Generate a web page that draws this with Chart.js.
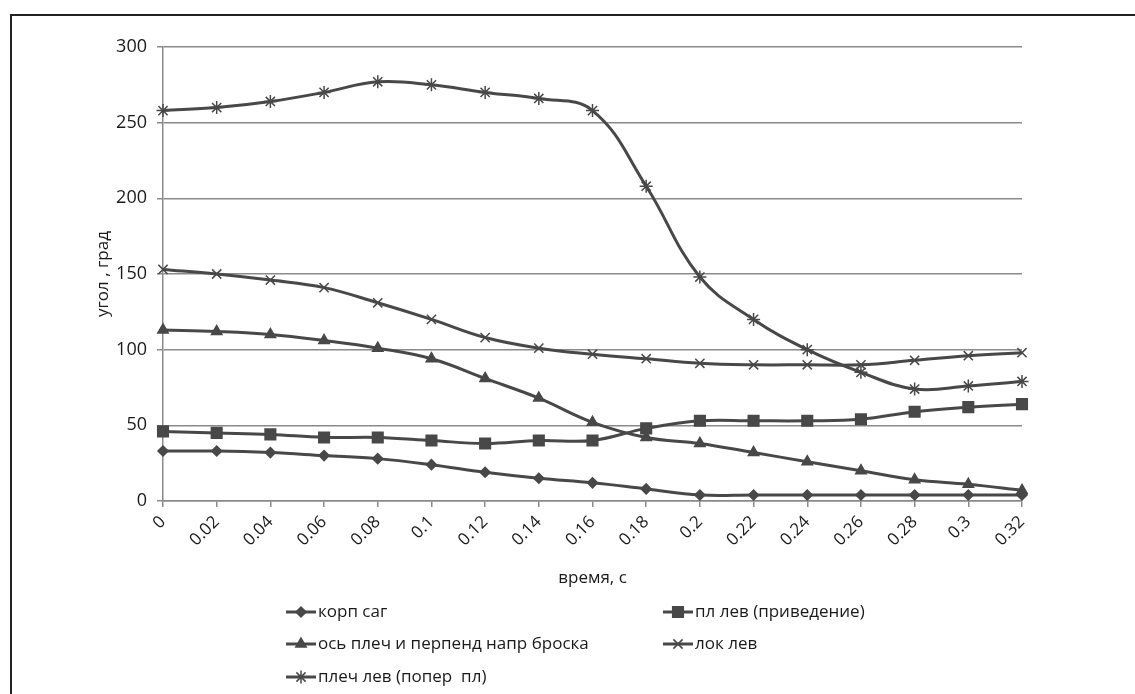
<!DOCTYPE html>
<html>
<head>
<meta charset="utf-8">
<script src="https://cdn.jsdelivr.net/npm/chart.js@4"></script>
<style>
  html, body { margin: 0; padding: 0; background: #fff; overflow: hidden; }
  #wrap { position: absolute; left: 0; top: 0; width: 1135px; height: 694px; }
  #frame { position: absolute; left: 10px; top: 14px; width: 2000px; height: 2000px;
           border-left: 2px solid #222; border-top: 2px solid #222; pointer-events: none; }
</style>
</head>
<body>
<div id="wrap"><canvas id="myChart" width="1135" height="694"></canvas></div>
<div id="frame"></div>
<script>
// time points, s
var times = ['0', '0.02', '0.04', '0.06', '0.08', '0.1', '0.12', '0.14', '0.16',
             '0.18', '0.2', '0.22', '0.24', '0.26', '0.28', '0.3', '0.32'];

// angles, degrees
var korpSag  = [33, 33, 32, 30, 28, 24, 19, 15, 12, 8, 4, 4, 4, 4, 4, 4, 4];
var plLev    = [46, 45, 44, 42, 42, 40, 38, 40, 40, 48, 53, 53, 53, 54, 59, 62, 64];
var osPlech  = [113, 112, 110, 106, 101, 94, 81, 68, 52, 42, 38, 32, 26, 20, 14, 11, 7];
var lokLev   = [153, 150, 146, 141, 131, 120, 108, 101, 97, 94, 91, 90, 90, 90, 93, 96, 98];
var plechLev = [258, 260, 264, 270, 277, 275, 270, 266, 258, 208, 148, 120, 100, 85, 74, 76, 79];

var yTicks = [0, 50, 100, 150, 200, 250, 300];

var lineColor = '#484848';
var font = '"Open Sans", sans-serif';

function series(label, data, style, radius) {
    return {
        label: label,
        data: data,
        borderColor: lineColor,
        backgroundColor: lineColor,
        borderWidth: 3,
        pointStyle: style,
        pointRadius: radius,
        pointBorderWidth: 1.5,
        pointBorderColor: lineColor,
        pointBackgroundColor: lineColor,
        tension: 0.4,
        fill: false
    };
}

// two-column legend under the x axis, like the spreadsheet one
var legendGrid = {
    id: 'legendGrid',
    afterDraw: function (chart) {
        var ctx = chart.ctx;
        var cols = [286, 663];
        var rows = [612, 644, 677];
        chart.data.datasets.forEach(function (ds, i) {
            var x = cols[i % 2], y = rows[Math.floor(i / 2)];
            ctx.save();
            ctx.strokeStyle = ds.borderColor;
            ctx.lineWidth = 3;
            ctx.beginPath();
            ctx.moveTo(x, y);
            ctx.lineTo(x + 30, y);
            ctx.stroke();
            ctx.fillStyle = ds.pointBackgroundColor;
            ctx.lineWidth = ds.pointBorderWidth;
            Chart.helpers.drawPoint(ctx, {
                pointStyle: ds.pointStyle, radius: ds.pointRadius,
                borderWidth: ds.pointBorderWidth, rotation: 0
            }, x + 15, y);
            ctx.fillStyle = '#1a1a1a';
            ctx.font = '17px ' + font;
            ctx.textBaseline = 'middle';
            ctx.textAlign = 'left';
            ctx.fillText(ds.label, x + 32, y);
            ctx.restore();
        });
    }
};

var ctx = document.getElementById('myChart').getContext('2d');
var chart = new Chart(ctx, {
    type: 'line',
    data: {
        labels: times,
        datasets: [
            series('корп саг', korpSag, 'rectRot', 5),
            series('пл лев (приведение)', plLev, 'rect', 7.5),
            series('ось плеч и перпенд напр броска', osPlech, 'triangle', 6),
            series('лок лев', lokLev, 'crossRot', 6.5),
            series('плеч лев (попер  пл)', plechLev, 'star', 6.5)
        ]
    },
    options: {
        responsive: false,
        animation: false,
        layout: { padding: { left: 89, right: 113, top: 47, bottom: 102 } },
        plugins: {
            legend: { display: false },
            tooltip: { enabled: false }
        },
        scales: {
            x: {
                offset: false,
                afterFit: function (s) { s.height = 91; },
                border: { color: '#8a8a8a', width: 1.5 },
                grid: { drawOnChartArea: false, drawTicks: true, tickLength: 6, color: '#8a8a8a', lineWidth: 1.5 },
                ticks: {
                    minRotation: 45, maxRotation: 45, autoSkip: false,
                    color: '#1a1a1a', font: { family: font, size: 17 }, padding: 5
                },
                title: { display: true, text: 'время, с', color: '#1a1a1a', font: { family: font, size: 17 } }
            },
            y: {
                min: 0, max: 300,
                afterFit: function (s) { s.width = 74; },
                afterBuildTicks: function (s) { s.ticks = yTicks.map(function (v) { return { value: v }; }); },
                border: { color: '#8a8a8a', width: 1.5 },
                grid: { color: '#8a8a8a', lineWidth: 1.5, tickLength: 6 },
                ticks: { color: '#1a1a1a', font: { family: font, size: 18 }, padding: 10 },
                title: { display: true, text: 'угол , град', color: '#1a1a1a', font: { family: font, size: 17 } }
            }
        }
    },
    plugins: [legendGrid]
});
</script>
</body>
</html>
